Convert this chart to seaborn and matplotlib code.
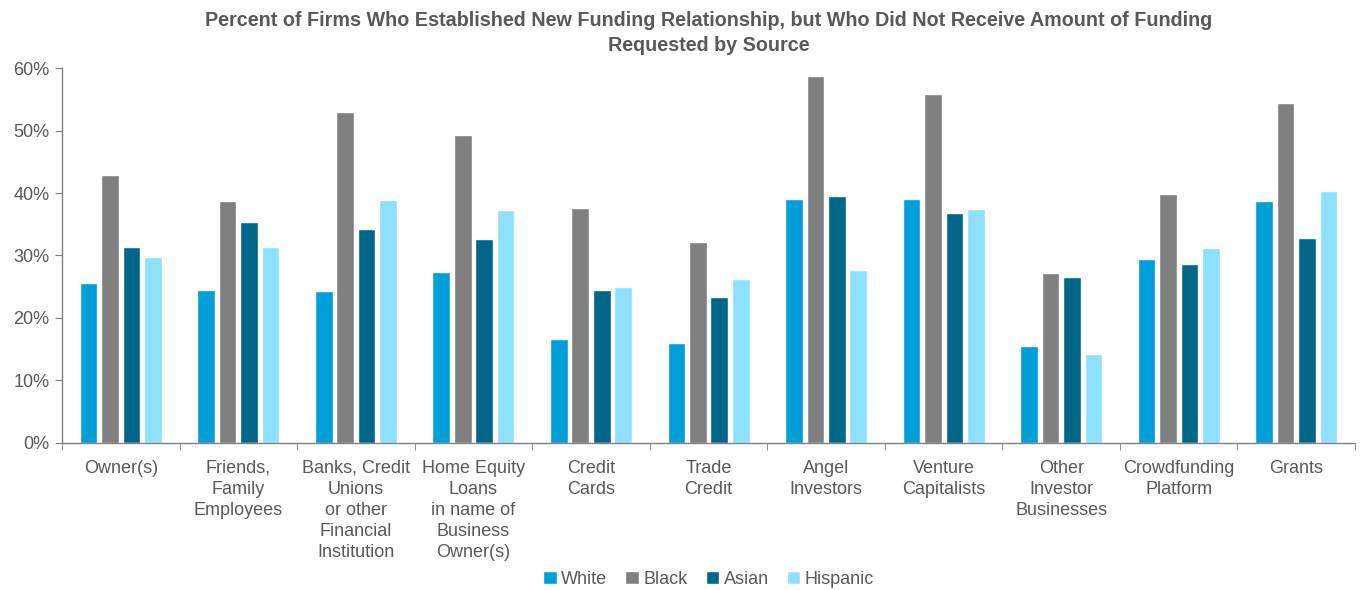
import numpy as np
import pandas as pd
import matplotlib
matplotlib.use("Agg")
import matplotlib.pyplot as plt
import seaborn as sns
from matplotlib.ticker import PercentFormatter

categories = ["Owner(s)", "Friends,\nFamily\nEmployees",
              "Banks, Credit\nUnions\nor other\nFinancial\nInstitution",
              "Home Equity\nLoans\nin name of\nBusiness\nOwner(s)",
              "Credit\nCards", "Trade\nCredit", "Angel\nInvestors",
              "Venture\nCapitalists", "Other\nInvestor\nBusinesses",
              "Crowdfunding\nPlatform", "Grants"]
white = [25.6, 24.5, 24.3, 27.4, 16.6, 16.0, 39.0, 39.1, 15.5, 29.4, 38.7]
black = [42.9, 38.7, 53.0, 49.3, 37.6, 32.2, 58.7, 55.8, 27.2, 39.9, 54.4]
asian = [31.4, 35.4, 34.2, 32.6, 24.5, 23.4, 39.5, 36.8, 26.5, 28.7, 32.8]
hispanic = [29.7, 31.4, 38.9, 37.3, 25.0, 26.2, 27.7, 37.5, 14.3, 31.2, 40.4]
series = ["White", "Black", "Asian", "Hispanic"]
colors = ["#009FDA", "#808080", "#00668A", "#8EE0FF"]

rows = []
for name, vals in zip(series, [white, black, asian, hispanic]):
    for c, v in zip(categories, vals):
        rows.append({"cat": c, "series": name, "value": v})
df = pd.DataFrame(rows)

sns.set_style("white")
plt.rcParams["font.family"] = ["Liberation Sans", "DejaVu Sans"]
txt = "#595959"

fig = plt.figure(figsize=(13.61, 5.90), dpi=100)
ax = fig.add_axes([0.0456, 0.2492, 0.95, 0.6355])
sns.barplot(data=df, x="cat", y="value", hue="series", order=categories,
            hue_order=series, palette=colors, width=0.73, gap=0.18,
            errorbar=None, ax=ax, saturation=1)

ax.set_ylim(0, 60)
ax.set_xlim(-0.5, len(categories) - 0.5)
ax.set_yticks(np.arange(0, 61, 10))
ax.yaxis.set_major_formatter(PercentFormatter(decimals=0))
ax.set_xlabel("")
ax.set_ylabel("")
for s in ["top", "right"]:
    ax.spines[s].set_visible(False)
for s in ["left", "bottom"]:
    ax.spines[s].set_color("#808080")
    ax.spines[s].set_linewidth(1)
ax.tick_params(axis="y", left=True, length=5, color="#808080", labelsize=13, labelcolor=txt, pad=4)
ax.tick_params(axis="x", which="major", length=0, labelsize=13, labelcolor=txt, pad=12)
ax.set_xticks(np.arange(-0.5, len(categories), 1), minor=True)
ax.tick_params(axis="x", which="minor", bottom=True, length=5, color="#808080")
for lab in ax.get_xticklabels():
    lab.set_linespacing(1.32)
    lab.set_verticalalignment("top")

ax.set_title("Percent of Firms Who Established New Funding Relationship, but Who Did Not Receive Amount of Funding\nRequested by Source",
             fontsize=14.2, fontweight="bold", color=txt, pad=12, linespacing=1.45)

ax.legend(loc="lower center", bbox_to_anchor=(0.5, -0.43), ncol=4, frameon=False,
          fontsize=13, handlelength=0.75, handleheight=0.75, handletextpad=0.25,
          columnspacing=1.0, labelcolor=txt)
ax.get_legend().set_title(None)

fig.savefig("out.png", dpi=100)
